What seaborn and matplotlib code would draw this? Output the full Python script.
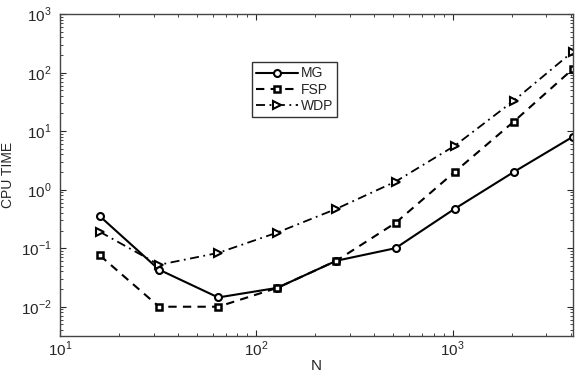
import numpy as np
import pandas as pd
import seaborn as sns
import matplotlib
matplotlib.use("Agg")
import matplotlib.pyplot as plt
from matplotlib.ticker import LogLocator, NullFormatter

sns.set_style("ticks")
plt.rcParams['font.family'] = ['Liberation Sans', 'DejaVu Sans']
plt.rcParams['mathtext.fontset'] = 'custom'
plt.rcParams['mathtext.rm'] = 'Liberation Sans'

# data
n_vals = [16, 32, 64, 128, 256, 512, 1024, 2048, 4096]
mg_time = [0.35, 0.043, 0.0144, 0.021, 0.061, 0.10, 0.47, 2.0, 8.0]
fsp_time = [0.075, 0.0100, 0.0100, 0.021, 0.061, 0.27, 2.0, 14.5, 115]
wdp_time = [0.19, 0.052, 0.083, 0.185, 0.47, 1.37, 5.6, 33, 228]

fig = plt.figure(figsize=(5.81, 3.74), dpi=100)
ax = fig.add_axes([0.103, 0.1016, 0.883, 0.861])

sns.lineplot(x=n_vals, y=mg_time, ax=ax, color='black', linestyle='-', lw=1.5,
             marker='o', ms=5, mfc='white', mec='black', mew=1.5, label='MG')
sns.lineplot(x=n_vals, y=fsp_time, ax=ax, color='black', linestyle=(0, (4, 3)), lw=1.5,
             marker='s', ms=4.5, mfc='white', mec='black', mew=1.8, label='FSP')
sns.lineplot(x=n_vals, y=wdp_time, ax=ax, color='black', linestyle=(0, (5, 2.5, 1, 2.5)), lw=1.3,
             marker='>', ms=6, mfc='white', mec='black', mew=1.5, label='WDP')

ax.set_xscale('log')
ax.set_yscale('log')
ax.set_xlim(10, 4096)
ax.set_ylim(10 ** -2.5, 1e3)
ax.set_xticks([10, 100, 1000])
ax.set_yticks([1e-2, 1e-1, 1e0, 1e1, 1e2, 1e3])
ax.set_xticklabels([r'$10^{1}$', r'$10^{2}$', r'$10^{3}$'])
ax.set_yticklabels([r'$10^{-2}$', r'$10^{-1}$', r'$10^{0}$', r'$10^{1}$', r'$10^{2}$', r'$10^{3}$'])
ax.xaxis.set_minor_locator(LogLocator(base=10, subs=np.arange(2, 10), numticks=20))
ax.yaxis.set_minor_locator(LogLocator(base=10, subs=np.arange(2, 10), numticks=20))
ax.xaxis.set_minor_formatter(NullFormatter())
ax.yaxis.set_minor_formatter(NullFormatter())
ax.tick_params(which='both', direction='in', top=True, right=True, labelsize=11)
ax.tick_params(axis='y', pad=6)
ax.tick_params(axis='x', pad=3)
ax.tick_params(which='major', length=4)
ax.tick_params(which='minor', length=2)
for sp in ax.spines.values():
    sp.set_visible(True)
    sp.set_color('#444444')
    sp.set_linewidth(1.0)

ax.set_xlabel('N', fontsize=11, labelpad=0)
ax.set_ylabel('CPU TIME', fontsize=10, labelpad=4)

leg = ax.legend(loc='upper left', bbox_to_anchor=(0.375, 0.85), fontsize=10,
                frameon=True, fancybox=False, edgecolor='black', handlelength=3.0,
                handletextpad=0.2, borderpad=0.3, labelspacing=0.15, borderaxespad=0)
leg.get_frame().set_linewidth(1.0)

fig.savefig('out.png', dpi=100)
